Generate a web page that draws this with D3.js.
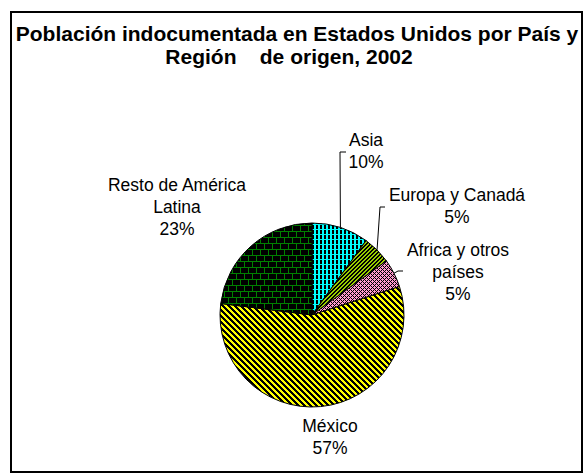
<!DOCTYPE html>
<html>
<head>
<meta charset="utf-8">
<script src="https://cdn.jsdelivr.net/npm/d3@7"></script>
<style>
  body { margin: 0; background: #fff; }
  svg { display: block; font-family: "Liberation Sans", Arial, sans-serif; }
</style>
</head>
<body>
<div id="chart"></div>
<script>
// data
var categories = ["Asia", "Europa y Canadá", "Africa y otros países", "México", "Resto de América Latina"];
var values = [10, 5, 5, 57, 23];
var labelLines = [["Asia", "10%"], ["Europa y Canadá", "5%"], ["Africa y otros", "países", "5%"], ["México", "57%"], ["Resto de América", "Latina", "23%"]];
var titleLines = ["Población indocumentada en Estados Unidos por País y", "Región    de origen, 2002"];

// layout (label block centre x, first baseline y) and leader elbows
var labelPos = [[366, 146], [457, 201], [458, 256], [330, 432], [177, 191]];
var leaderEnd = [[340, 152, 346], [380, 207, 385], [398, 271, 403], null, null];

var width = 584, height = 474;
var cx = 312, cy = 315, radius = 92;

var svg = d3.select("#chart").append("svg")
    .attr("width", width)
    .attr("height", height);

// fill patterns, built from pixel grids
var defs = svg.append("defs");
function addPattern(id, rows, colors){
    var p = defs.append("pattern")
        .attr("id", id)
        .attr("patternUnits", "userSpaceOnUse")
        .attr("width", rows[0].length)
        .attr("height", rows.length);
    rows.forEach(function(r, y){
        r.split("").forEach(function(ch, x){
            p.append("rect")
                .attr("x", x).attr("y", y)
                .attr("width", 1).attr("height", 1)
                .attr("shape-rendering", "crispEdges")
                .attr("fill", colors[ch]);
        });
    });
}
addPattern("p0", ["kkcc", "kkcc", "kkcc", "kkcc", "cccc"], {k: "#000", c: "#00ffff"});
addPattern("p1", ["ggkk", "gkkg", "kkgg", "kggk"], {k: "#000", g: "#99cc00"});
addPattern("p2", ["kppp", "pkpk", "ppkp", "pkpk"], {k: "#000", p: "#ff99cc"});
addPattern("p3", ["yyykkk", "kyyykk", "kkyyyk", "kkkyyy", "ykkkyy", "yykkky"], {k: "#000", y: "#ffff00"});
addPattern("p4", [
    "gggggggg",
    "gkkkkkkk",
    "gkkkkkkk",
    "gkkkkkkk",
    "gkkkkkkk",
    "gkkkkkkk",
    "gggggggg",
    "kkkkgkkk",
    "kkkkgkkk",
    "kkkkgkkk",
    "kkkkgkkk",
    "kkkkgkkk"], {k: "#000", g: "#008000"});

// frame
svg.append("rect")
    .attr("x", 11).attr("y", 12)
    .attr("width", 571).attr("height", 460)
    .attr("fill", "none")
    .attr("stroke", "#000")
    .attr("stroke-width", 2);

// title
var title = svg.append("text")
    .attr("text-anchor", "middle")
    .style("font-weight", "bold")
    .style("font-size", "21px")
    .style("white-space", "pre")
    .attr("xml:space", "preserve");
title.append("tspan").attr("x", 297).attr("y", 41).text(titleLines[0]);
title.append("tspan").attr("x", 289).attr("y", 64).text(titleLines[1]);

// pie
var pie = d3.pie().sort(null).value(function(d){ return d; });
var arc = d3.arc().innerRadius(0).outerRadius(radius);
var arcs = pie(values);

var g = svg.append("g").attr("transform", "translate(" + cx + "," + cy + ")");
g.selectAll("path.slice")
    .data(arcs)
  .enter().append("path")
    .attr("class", "slice")
    .attr("d", arc)
    .attr("fill", function(d, i){ return "url(#p" + i + ")"; })
    .attr("stroke", "#000")
    .attr("stroke-width", 1);

// leader lines
arcs.forEach(function(d, i){
    var e = leaderEnd[i];
    if (!e) return;
    var a = (d.startAngle + d.endAngle) / 2;
    var x0 = cx + radius * Math.sin(a), y0 = cy - radius * Math.cos(a);
    svg.append("path")
        .attr("d", "M" + x0 + "," + y0 + "L" + e[0] + "," + e[1] + "L" + e[2] + "," + e[1])
        .attr("fill", "none")
        .attr("stroke", "#000")
        .attr("stroke-width", 1);
});

// labels
labelLines.forEach(function(lines, i){
    var t = svg.append("text")
        .attr("text-anchor", "middle")
        .style("font-size", "17.5px")
        .attr("fill", "#000");
    lines.forEach(function(s, j){
        t.append("tspan")
            .attr("x", labelPos[i][0])
            .attr("y", labelPos[i][1] + j * 22)
            .text(s);
    });
});
</script>
</body>
</html>
